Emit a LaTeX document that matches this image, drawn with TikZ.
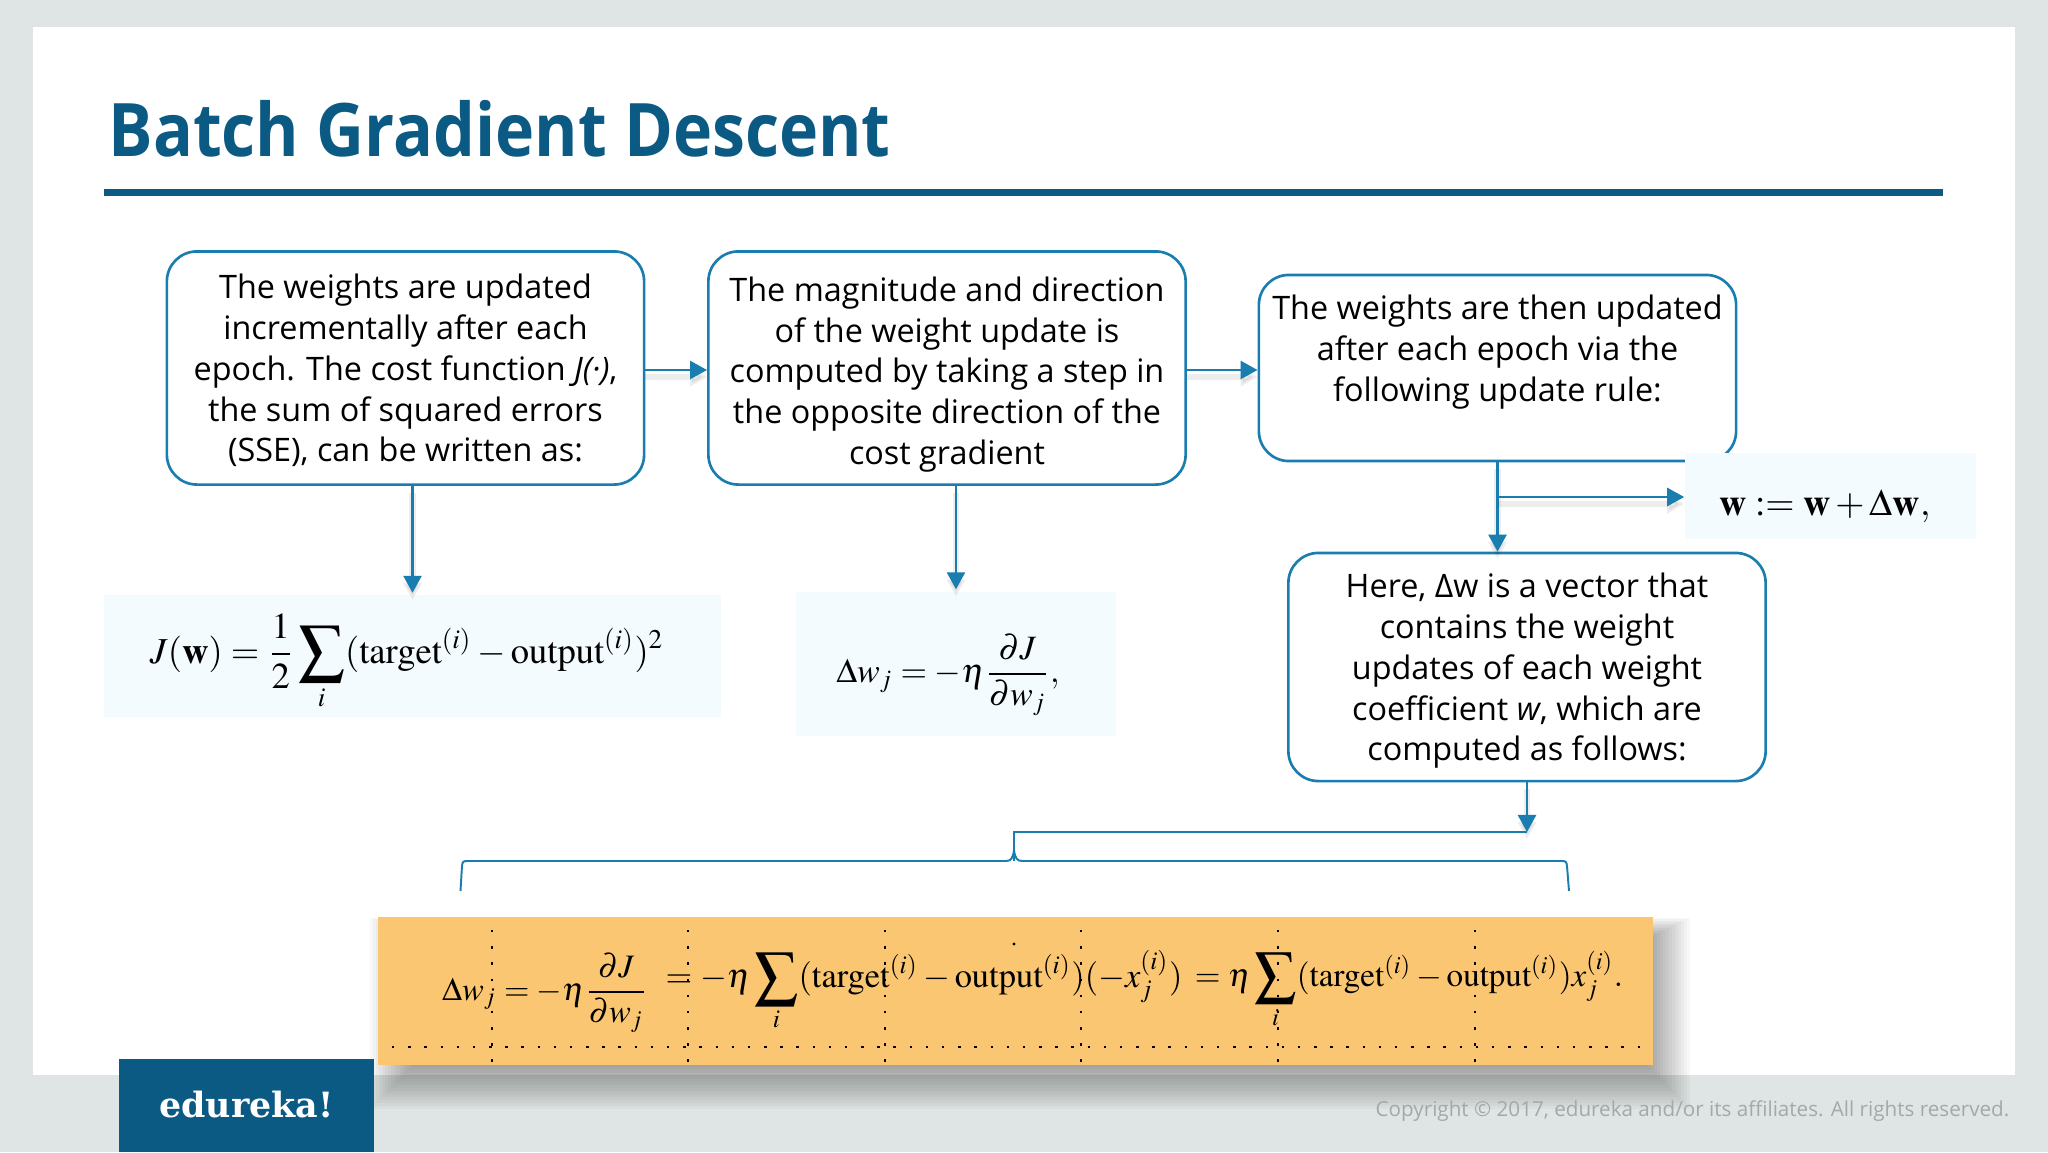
\documentclass[tikz,border=0pt]{standalone}
\usepackage{amsmath,amssymb,graphicx}
\usepackage{mathptmx}
\usepackage[no-math]{fontspec}
\setmainfont{Open Sans}
\newfontfamily\logofont{DejaVu Serif}
\usetikzlibrary{arrows.meta}
\definecolor{flowblue}{HTML}{1A7DB0}
\definecolor{titleblue}{HTML}{0B5A84}
\definecolor{slidegrey}{HTML}{DFE5E4}
\definecolor{formulablue}{HTML}{F3FBFE}
\definecolor{formulaorange}{HTML}{FBC672}
\definecolor{copygrey}{HTML}{A3A9A9}
\newcommand{\bigsum}{\mathop{\vcenter{\hbox{\scalebox{1.25}{$\displaystyle\sum$}}}}}
\newcommand{\lifted}[1]{\rule{0pt}{#1pt}}
\tikzset{
 stepbox/.style={draw=flowblue,line width=0.75pt,fill=white,rounded corners=0.3cm,minimum width=4.77cm,inner sep=0pt,align=center,font=\fontsize{9.2}{11.6}\selectfont},
 formulabox/.style={fill=formulablue,inner sep=0pt},
 formula/.style={inner sep=0pt,font=\fontsize{10}{12}\selectfont},
 flow/.style={draw=flowblue,line width=0.75pt,-{Triangle[length=1.7mm,width=1.8mm]},preaction={draw=black,opacity=0.07,line width=1.8pt,transform canvas={yshift=-0.7mm}}},
 bracket/.style={draw=flowblue,line width=0.55pt},
 gridline/.style={black,line width=0.7pt,dash pattern=on 0.7pt off 3.9pt}
}
\begin{document}
\begin{tikzpicture}[x=0.01cm,y=-0.01cm]
 \fill[slidegrey](0,0) rectangle (2048,1152);
 \fill[white](33,27) rectangle (2015,1075);
 \node[anchor=base west,inner sep=0pt,xscale=0.897,text=titleblue,font=\fontsize{21}{24}\selectfont\bfseries](title) at (108,156.5){Batch Gradient Descent};
 \fill[titleblue](104,188.5) rectangle (1943,195.5);
 %
 \node[stepbox,minimum height=2.33cm](cost) at (405.5,368){\lifted{8.5}The weights are updated\\incrementally after each\\epoch. The cost function \textit{J(·)},\\the sum of squared errors\\(SSE), can be written as:};
 \node[stepbox,minimum height=2.33cm](direction) at (947,368){\lifted{10.7}The magnitude and direction\\of the weight update is\\computed by taking a step in\\the opposite direction of the\\cost gradient};
 \node[stepbox,minimum height=1.86cm](rule) at (1497.5,368){\lifted{10.7}The weights are then updated\\after each epoch via the\\following update rule:\\ \strut};
 \node[stepbox,minimum height=2.28cm](here) at (1527,667){\lifted{9.2}Here, Δw is a vector that\\contains the weight\\updates of each weight\\coefficient \textit{w}, which are\\computed as follows:};
 %
 \node[formulabox,minimum width=6.16cm,minimum height=1.21cm](jbox) at (412.5,656){};
 \node[formula,font=\fontsize{10.4}{12}\selectfont](jform) at (407,662){$\displaystyle J(\mathbf{w})=\frac{1}{2}\bigsum_{i}(\mathrm{target}^{(i)}-\mathrm{output}^{(i)})^{2}$};
 \node[formulabox,minimum width=3.2cm,minimum height=1.44cm](dbox) at (956,664){};
 \node[formula,font=\fontsize{9.7}{12}\selectfont](dform) at (948,675){$\displaystyle \Delta w_{j}=-\eta\frac{\partial J}{\partial w_{j}},$};
 \node[formulabox,minimum width=2.91cm,minimum height=0.86cm](wbox) at (1830.5,496){};
 \node[formula,font=\fontsize{10.7}{12}\selectfont](wform) at (1825,506){$\mathbf{w}:=\mathbf{w}+\Delta\mathbf{w},$};
 %
 \draw[flow](cost.east |- 0,370)--(direction.west |- 0,370);
 \draw[flow](direction.east |- 0,370)--(rule.west |- 0,370);
 \draw[flow,shorten >=0.02cm](jbox.north |- cost.south)--(jbox.north);
 \draw[flow,shorten >=0.02cm](dbox.north |- direction.south)--(dbox.north);
 \draw[flow](rule.south)--(rule.south |- here.north);
 \coordinate(branch) at (rule.south |- 0,497);
 \draw[flow](branch)--(wbox.west |- branch);
 %
 \foreach \s in {0,3,...,45}
  \fill[black,opacity=0.028]({415-\s},{940-\s*0.5}) rectangle ({1645+\s},{1064+\s});   %soft shadow
 \fill[formulaorange](378,917) rectangle (1652.5,1065);
 \foreach \x in {492,688,885,1081,1278,1475}
  \draw[gridline](\x,930)--(\x,1065);
 \draw[gridline](392,1047)--(1642,1047);
 \fill[black](1014,944) circle (1.6);
 \node[formula,font=\fontsize{9.3}{12}\selectfont](stepa) at (545,993){$\displaystyle \Delta w_{j}=-\eta\frac{\partial J}{\partial w_{j}}$};
 \node[formula,font=\fontsize{9.8}{12}\selectfont](stepb) at (924,991){$\displaystyle =-\eta\bigsum_{i}(\mathrm{target}^{(i)}-\mathrm{output}^{(i)})(-x_{j}^{(i)})$};
 \node[formula,font=\fontsize{9.4}{12}\selectfont](stepc) at (1409,990){$\displaystyle =\eta\bigsum_{i}(\mathrm{target}^{(i)}-\mathrm{output}^{(i)})x_{j}^{(i)}.$};
 %
 \coordinate(bracetip) at (here.south |- 0,832);
 \draw[flow](here.south)--(bracetip);
 \coordinate(bracemid) at (1014,861);
 \draw[bracket,line width=0.75pt](bracetip)--(bracemid |- bracetip)--(bracemid);
 \draw[bracket](460.5,891)--(462,866) .. controls (462.5,862) and (463,861) .. (467,861)--(1006,861) .. controls (1011,861) and (1013,858) .. (1014,850) .. controls (1015,858) and (1017,861) .. (1022,861)--(1562,861) .. controls (1566,861) and (1566.5,862) .. (1567,866)--(1569,891);
 %
 \node[fill=titleblue,minimum width=2.55cm,minimum height=0.93cm,inner sep=0pt,text=white,font=\fontsize{9.9}{12}\logofont\bfseries](logo) at (246.5,1105.5){\raisebox{0.7pt}{edureka!}};
 \node[anchor=east,inner sep=0pt,text=copygrey,font=\fontsize{5.87}{7}\selectfont](copy) at (2010,1111){Copyright © 2017, edureka and/or its affiliates. All rights reserved.};
\end{tikzpicture}
\end{document}
